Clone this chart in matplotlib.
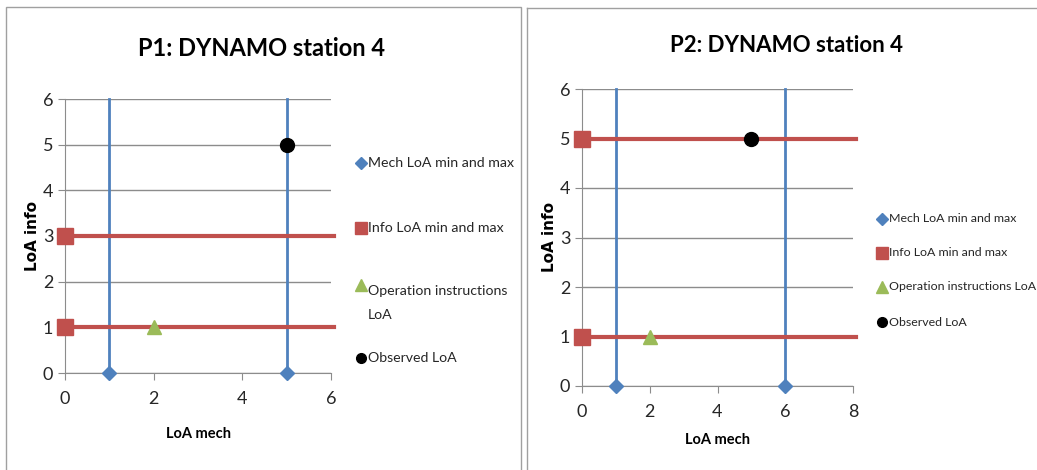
import matplotlib
matplotlib.use("Agg")
import matplotlib.pyplot as plt
from matplotlib.lines import Line2D
from matplotlib.patches import Rectangle

plt.rcParams['font.family'] = ['Lato', 'DejaVu Sans']

BLUE = '#4F81BD'
RED = '#C0504D'
GREEN = '#9BBB59'
GRID = '#8C8C8C'
TEXT = '#262626'

# P1 data
p1_mech_x = [1, 5]
p1_mech_y = [0, 0]
p1_info_x = [0, 0]
p1_info_y = [1, 3]
p1_op_x = [2]
p1_op_y = [1]
p1_obs_x = [5]
p1_obs_y = [5]

# P2 data
p2_mech_x = [1, 6]
p2_mech_y = [0, 0]
p2_info_x = [0, 0]
p2_info_y = [1, 5]
p2_op_x = [2]
p2_op_y = [1]
p2_obs_x = [5]
p2_obs_y = [5]

labels_p1 = ['Mech LoA min and max', 'Info LoA min and max',
             'Operation instructions\nLoA', 'Observed LoA']
labels_p2 = ['Mech LoA min and max', 'Info LoA min and max',
             'Operation instructions LoA', 'Observed LoA']

W, H = 1037, 470


def panel(ax, mech_x, mech_y, info_x, info_y, op_x, op_y, obs_x, obs_y,
          xmax, xticks, xlabpad):
    ymax = 6
    ax.set_xlim(0, xmax)
    ax.set_ylim(0, ymax)
    ax.set_xticks(xticks)
    ax.set_yticks(range(0, 7))
    ax.grid(axis='y', color=GRID, lw=1)
    ax.set_axisbelow(True)
    for s in ['top', 'right']:
        ax.spines[s].set_visible(False)
    for s in ['left', 'bottom']:
        ax.spines[s].set_color(GRID)
    ax.tick_params(colors=GRID, labelcolor=TEXT, labelsize=13, length=5,
                   direction='out')
    ax.tick_params(axis='x', pad=8)

    # vertical mech ranges
    for x in mech_x:
        ax.plot([x, x], [0, ymax], color=BLUE, lw=2, clip_on=False, zorder=2)
    # horizontal info ranges
    for y in info_y:
        ax.plot([0, xmax * 1.01], [y, y], color=RED, lw=3, clip_on=False, zorder=2)

    ax.plot(mech_x, mech_y, ls='', marker='D', ms=7, color=BLUE, clip_on=False, zorder=4)
    ax.plot(info_x, info_y, ls='', marker='s', ms=11, color=RED, clip_on=False, zorder=4)
    ax.plot(op_x, op_y, ls='', marker='^', ms=10, color=GREEN, clip_on=False, zorder=4)
    ax.plot(obs_x, obs_y, ls='', marker='o', ms=10, color='black', clip_on=False, zorder=4)

    ax.set_xlabel('LoA mech', fontsize=10.5, fontweight='bold', labelpad=xlabpad)
    ax.set_ylabel('LoA info', fontsize=11, fontweight='bold',
                  family='DejaVu Sans', labelpad=2)


def legend_rows(fig, x, ys, labels, fs):
    styles = [dict(marker='D', ms=6, color=BLUE),
              dict(marker='s', ms=9, color=RED),
              dict(marker='^', ms=8, color=GREEN),
              dict(marker='o', ms=7, color='black')]
    for y, lab, st in zip(ys, labels, styles):
        fig.add_artist(Line2D([x / W], [1 - y / H], ls='', **st))
        fig.text((x + 7) / W, 1 - y / H, lab, fontsize=fs, color=TEXT,
                 va='top' if '\n' in lab else 'center', ha='left',
                 linespacing=2.2)


fig = plt.figure(figsize=(10.37, 4.70), dpi=100)

ax1 = fig.add_axes([65 / W, 1 - 373 / H, (331 - 65) / W, (373 - 99) / H])
panel(ax1, p1_mech_x, p1_mech_y, p1_info_x, p1_info_y, p1_op_x, p1_op_y,
      p1_obs_x, p1_obs_y, 6, [0, 2, 4, 6], 14)
fig.text(262 / W, 1 - 48 / H, 'P1: DYNAMO station 4', fontsize=17,
         fontweight='bold', ha='center', va='center')

ax2 = fig.add_axes([582 / W, 1 - 386 / H, (853 - 582) / W, (386 - 89) / H])
panel(ax2, p2_mech_x, p2_mech_y, p2_info_x, p2_info_y, p2_op_x, p2_op_y,
      p2_obs_x, p2_obs_y, 8, [0, 2, 4, 6, 8], 9)
fig.text(787 / W, 1 - 45 / H, 'P2: DYNAMO station 4', fontsize=16,
         fontweight='bold', ha='center', va='center')

legend_rows(fig, 361, [163, 228, 285, 358], labels_p1, 10.2)
legend_rows(fig, 882, [219, 253, 287, 322], labels_p2, 8.9)

# panel frames
fig.add_artist(Rectangle((6 / W, -0.01), (521 - 6) / W, 1 - 7 / H + 0.01,
                         transform=fig.transFigure, fill=False,
                         edgecolor='#A0A0A0', lw=1))
fig.add_artist(Line2D([527 / W, 1], [1 - 8 / H, 1 - 8 / H], color='#A0A0A0', lw=1))
fig.add_artist(Line2D([527 / W, 527 / W], [0, 1 - 8 / H], color='#A0A0A0', lw=1))

fig.savefig('out.png', dpi=100)
